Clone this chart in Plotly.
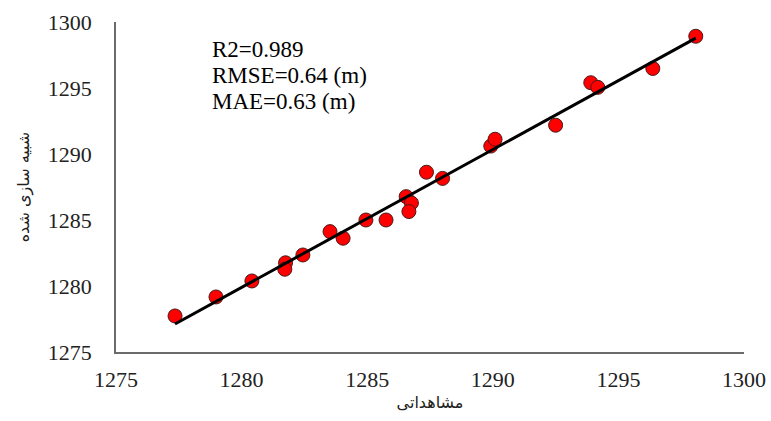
import numpy as np
import plotly.graph_objects as go

# observed (x) and simulated (y) water levels
observed = [1277.35, 1278.98, 1280.41, 1281.75, 1281.72, 1282.44, 1283.52, 1284.04,
            1284.95, 1285.75, 1286.55, 1286.76, 1286.66, 1287.36, 1288.00, 1289.92,
            1290.09, 1292.50, 1293.90, 1294.18, 1296.37, 1298.08]
simulated = [1277.73, 1279.17, 1280.38, 1281.76, 1281.27, 1282.35, 1284.12, 1283.62,
             1285.00, 1285.00, 1286.77, 1286.29, 1285.64, 1288.62, 1288.15, 1290.60,
             1291.12, 1292.18, 1295.40, 1295.05, 1296.48, 1298.92]

stats_lines = ["R2=0.989", "RMSE=0.64 (m)", "MAE=0.63 (m)"]
x_title = "مشاهداتی"
y_title = "شبیه سازی شده"
tick_vals = [1275, 1280, 1285, 1290, 1295, 1300]

obs = np.array(observed)
sim = np.array(simulated)
slope, intercept = np.polyfit(obs, sim, 1)
line_x = np.array([obs.min(), obs.max()])
line_y = slope * line_x + intercept

serif = "Liberation Serif, Times New Roman, serif"
arab = "DejaVu Serif, DejaVu Sans, serif"

fig = go.Figure()
fig.add_trace(go.Scatter(
    x=observed, y=simulated, mode="markers",
    marker=dict(symbol="circle", size=14, color="#ff0000",
                line=dict(color="#4a1a1a", width=1)),
    showlegend=False, cliponaxis=False))
fig.add_trace(go.Scatter(
    x=line_x, y=line_y, mode="lines",
    line=dict(color="black", width=3), showlegend=False))

for i, t in enumerate(stats_lines):
    fig.add_annotation(
        x=0.149, y=0.918 - i * 0.079, xref="paper", yref="paper",
        xanchor="left", yanchor="middle", showarrow=False,
        text=t, font=dict(family=serif, size=23, color="black"))

fig.update_layout(
    width=771, height=421,
    margin=dict(l=116, r=27, t=22, b=69),
    paper_bgcolor="white", plot_bgcolor="white",
    xaxis=dict(range=[1275, 1300], tickvals=tick_vals, showgrid=False,
               zeroline=False, showline=True, linecolor="#6b6b6b", linewidth=1.5,
               ticks="", ticklabelstandoff=7, automargin=False,
               tickfont=dict(family=serif, size=22, color="#222"),
               title=dict(text=x_title, standoff=6,
                          font=dict(family=arab, size=16, color="#222"))),
    yaxis=dict(range=[1275, 1300], tickvals=tick_vals, showgrid=False,
               zeroline=False, showline=True, linecolor="#6b6b6b", linewidth=1.5,
               ticks="", ticklabelstandoff=18, automargin=False,
               tickfont=dict(family=serif, size=22, color="#222"),
               title=dict(text=y_title, standoff=14,
                          font=dict(family=arab, size=16, color="#222"))),
)

fig.write_html("out.html", config={"displayModeBar": False},
               post_script="document.body.style.margin='0';document.body.style.padding='0';")
